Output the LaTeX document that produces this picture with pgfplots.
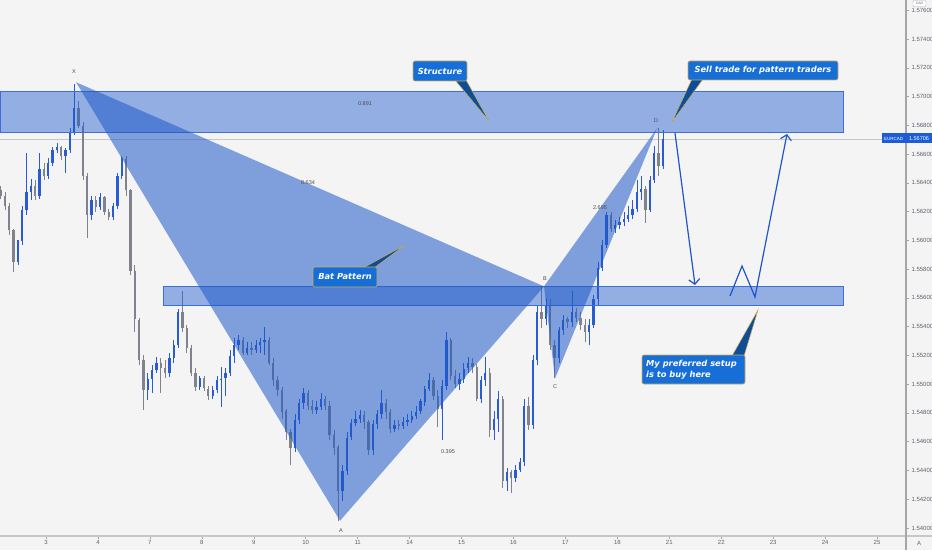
\documentclass[border=0pt]{standalone}
\usepackage{pgfplots}
\pgfplotsset{compat=1.18}
\usepackage{pgfplotstable}
\usepackage{fontspec}
\setmainfont{Liberation Sans}
\newfontfamily\calloutfont{DejaVu Sans}
\usetikzlibrary{arrows.meta}

\definecolor{bg}{RGB}{244,244,244}
\definecolor{upc}{RGB}{41,92,210}
\definecolor{dnc}{RGB}{128,131,140}
\definecolor{patt}{RGB}{30,90,200}
\definecolor{zone}{RGB}{30,90,205}
\definecolor{zoneedge}{RGB}{60,110,215}
\definecolor{callbg}{RGB}{22,110,214}
\definecolor{calledge}{RGB}{205,175,85}
\definecolor{arrowc}{RGB}{30,85,205}
\definecolor{axgray}{RGB}{165,165,170}
\definecolor{lblgray}{RGB}{95,98,108}
\definecolor{tagblue}{RGB}{28,92,214}

% EURCAD candles, 12 bars per trading day (k = bar number)
\pgfplotstableread{
k o h l c
0 1.5635 1.5638 1.5629 1.5631
1 1.5631 1.5634 1.5621 1.5624
2 1.5624 1.5626 1.5604 1.5607
3 1.5607 1.5608 1.5578 1.5585
4 1.5585 1.5590 1.5583 1.5600
5 1.5600 1.5624 1.5597 1.5621
6 1.5621 1.5661 1.5618 1.5634
7 1.5634 1.5643 1.5628 1.5638
8 1.5638 1.5642 1.5628 1.5631
9 1.5631 1.5661 1.5629 1.5650
10 1.5650 1.5654 1.5642 1.5645
11 1.5645 1.5657 1.5643 1.5654
12 1.5654 1.5665 1.5652 1.5663
13 1.5663 1.5668 1.5661 1.5665
14 1.5665 1.5666 1.5656 1.5659
15 1.5659 1.5664 1.5647 1.5663
16 1.5663 1.5678 1.5661 1.5675
17 1.5675 1.5709 1.5673 1.5692
18 1.5692 1.5697 1.5678 1.5680
19 1.5680 1.5682 1.5642 1.5645
20 1.5645 1.5647 1.5602 1.5618
21 1.5618 1.5631 1.5614 1.5628
22 1.5628 1.5631 1.5620 1.5623
23 1.5623 1.5633 1.5621 1.5630
24 1.5630 1.5631 1.5618 1.5620
25 1.5620 1.5622 1.5614 1.5616
26 1.5616 1.5626 1.5614 1.5624
27 1.5624 1.5647 1.5622 1.5645
28 1.5645 1.5659 1.5643 1.5657
29 1.5657 1.5659 1.5631 1.5635
30 1.5635 1.5636 1.5576 1.5579
31 1.5579 1.5583 1.5536 1.5545
32 1.5545 1.5546 1.5513 1.5517
33 1.5517 1.5520 1.5482 1.5496
34 1.5496 1.5508 1.5489 1.5504
35 1.5504 1.5513 1.5494 1.5510
36 1.5510 1.5519 1.5508 1.5515
37 1.5515 1.5518 1.5494 1.5511
38 1.5511 1.5517 1.5504 1.5508
39 1.5508 1.5522 1.5505 1.5518
40 1.5518 1.5531 1.5515 1.5527
41 1.5527 1.5552 1.5525 1.5550
42 1.5550 1.5565 1.5536 1.5539
43 1.5539 1.5541 1.5522 1.5525
44 1.5525 1.5527 1.5506 1.5508
45 1.5508 1.5511 1.5495 1.5498
46 1.5498 1.5506 1.5496 1.5504
47 1.5504 1.5506 1.5495 1.5497
48 1.5497 1.5499 1.5489 1.5492
49 1.5492 1.5499 1.5490 1.5496
50 1.5496 1.5506 1.5494 1.5503
51 1.5503 1.5512 1.5484 1.5504
52 1.5504 1.5511 1.5492 1.5508
53 1.5508 1.5524 1.5506 1.5520
54 1.5520 1.5532 1.5515 1.5527
55 1.5527 1.5534 1.5524 1.5531
56 1.5531 1.5533 1.5520 1.5522
57 1.5522 1.5529 1.5520 1.5525
58 1.5525 1.5529 1.5520 1.5524
59 1.5524 1.5531 1.5522 1.5527
60 1.5527 1.5532 1.5522 1.5529
61 1.5529 1.5540 1.5520 1.5531
62 1.5531 1.5533 1.5513 1.5515
63 1.5515 1.5518 1.5499 1.5503
64 1.5503 1.5506 1.5492 1.5496
65 1.5496 1.5498 1.5476 1.5481
66 1.5481 1.5483 1.5461 1.5467
67 1.5467 1.5469 1.5444 1.5456
68 1.5456 1.5479 1.5453 1.5475
69 1.5475 1.5490 1.5472 1.5487
70 1.5487 1.5497 1.5483 1.5494
71 1.5494 1.5496 1.5482 1.5485
72 1.5485 1.5489 1.5479 1.5482
73 1.5482 1.5488 1.5479 1.5484
74 1.5484 1.5494 1.5482 1.5490
75 1.5490 1.5492 1.5482 1.5485
76 1.5485 1.5488 1.5461 1.5465
77 1.5465 1.5468 1.5451 1.5456
78 1.5456 1.5458 1.5405 1.5426
79 1.5426 1.5444 1.5419 1.5440
80 1.5440 1.5467 1.5437 1.5463
81 1.5463 1.5476 1.5461 1.5473
82 1.5473 1.5481 1.5471 1.5476
83 1.5476 1.5482 1.5473 1.5479
84 1.5479 1.5481 1.5469 1.5474
85 1.5474 1.5475 1.5451 1.5454
86 1.5454 1.5475 1.5451 1.5472
87 1.5472 1.5482 1.5469 1.5479
88 1.5479 1.5496 1.5476 1.5487
89 1.5487 1.5490 1.5476 1.5481
90 1.5481 1.5483 1.5466 1.5469
91 1.5469 1.5475 1.5467 1.5472
92 1.5472 1.5475 1.5468 1.5471
93 1.5471 1.5477 1.5469 1.5474
94 1.5474 1.5479 1.5471 1.5475
95 1.5475 1.5481 1.5473 1.5478
96 1.5478 1.5485 1.5476 1.5481
97 1.5481 1.5490 1.5479 1.5488
98 1.5488 1.5499 1.5485 1.5497
99 1.5497 1.5508 1.5495 1.5503
100 1.5503 1.5505 1.5489 1.5492
101 1.5492 1.5496 1.5470 1.5483
102 1.5483 1.5503 1.5461 1.5499
103 1.5499 1.5536 1.5496 1.5531
104 1.5531 1.5532 1.5503 1.5506
105 1.5506 1.5510 1.5497 1.5500
106 1.5500 1.5508 1.5496 1.5504
107 1.5504 1.5515 1.5501 1.5511
108 1.5511 1.5519 1.5508 1.5515
109 1.5515 1.5518 1.5508 1.5512
110 1.5512 1.5514 1.5488 1.5490
111 1.5490 1.5506 1.5487 1.5503
112 1.5503 1.5519 1.5499 1.5508
113 1.5508 1.5511 1.5463 1.5468
114 1.5468 1.5481 1.5461 1.5476
115 1.5476 1.5495 1.5467 1.5490
116 1.5490 1.5492 1.5428 1.5433
117 1.5433 1.5442 1.5426 1.5439
118 1.5439 1.5440 1.5424 1.5435
119 1.5435 1.5444 1.5432 1.5440
120 1.5440 1.5449 1.5439 1.5446
121 1.5446 1.5490 1.5443 1.5485
122 1.5485 1.5491 1.5468 1.5472
123 1.5472 1.5520 1.5469 1.5517
124 1.5517 1.5555 1.5513 1.5550
125 1.5550 1.5568 1.5539 1.5545
126 1.5545 1.5560 1.5541 1.5555
127 1.5555 1.5559 1.5524 1.5527
128 1.5527 1.5531 1.5504 1.5518
129 1.5518 1.5540 1.5515 1.5538
130 1.5538 1.5548 1.5534 1.5545
131 1.5545 1.5547 1.5539 1.5543
132 1.5543 1.5565 1.5540 1.5550
133 1.5550 1.5553 1.5543 1.5546
134 1.5546 1.5550 1.5538 1.5541
135 1.5541 1.5545 1.5529 1.5536
136 1.5536 1.5545 1.5527 1.5541
137 1.5541 1.5562 1.5539 1.5559
138 1.5559 1.5585 1.5555 1.5581
139 1.5581 1.5600 1.5579 1.5597
140 1.5597 1.5620 1.5595 1.5618
141 1.5618 1.5620 1.5606 1.5608
142 1.5608 1.5614 1.5605 1.5611
143 1.5611 1.5616 1.5608 1.5613
144 1.5613 1.5620 1.5610 1.5615
145 1.5615 1.5624 1.5613 1.5618
146 1.5618 1.5628 1.5615 1.5622
147 1.5622 1.5642 1.5620 1.5634
148 1.5634 1.5645 1.5628 1.5636
149 1.5636 1.5638 1.5612 1.5621
150 1.5621 1.5645 1.5620 1.5642
151 1.5642 1.5666 1.5640 1.5661
152 1.5661 1.5678 1.5645 1.5652
153 1.5652 1.5677 1.5650 1.56706
}\candles

% #1 sign range of close-open, #2 colour, #3 stroke width, #4 error direction
\pgfplotsset{
  candle/.style n args={4}{draw=none, mark=none, forget plot,
    restrict expr to domain={\thisrow{c}-\thisrow{o}}{#1},
    error bars/y dir=#4, error bars/y explicit, error bars/error mark=none,
    error bars/error bar style={draw=#2, solid, line width=#3}},
}

\begin{document}
\begin{tikzpicture}
\fill[bg] (0,0) rectangle (932pt,550pt);
\begin{axis}[
  at={(0pt,14pt)}, anchor=south west, scale only axis,
  width=906pt, height=536pt,
  xmin=-0.886, xmax=16.557, ymin=1.53944, ymax=1.57672,
  axis x line*=bottom, axis y line*=right,
  axis line style={draw=none},
  xtick={0,...,16},
  xticklabels={3,4,7,8,9,10,11,14,15,16,17,18,21,22,23,24,25},
  ytick={1.540,1.542,1.544,1.546,1.548,1.550,1.552,1.554,1.556,1.558,1.560,1.562,1.564,1.566,1.568,1.570,1.572,1.574,1.576},
  scaled y ticks=false,
  yticklabel style={/pgf/number format/fixed, /pgf/number format/fixed zerofill, /pgf/number format/precision=5, xshift=-0.5pt},
  xticklabel style={yshift=1.5pt},
  /pgf/number format/assume math mode=true,
  tick label style={font=\fontsize{6}{7}\selectfont, text=lblgray},
  tick align=outside, major tick length=2.5pt,
  tick style={draw=axgray, line width=0.5pt},
]
% last price line
\addplot[draw=black!22, line width=0.5pt, forget plot] coordinates {(-0.886,1.56706) (16.557,1.56706)};

% wicks (low to high)
\addplot[candle={0:1}{upc}{0.6pt}{plus}]
  table[x expr=\thisrow{k}/12-0.875, y=l, y error plus expr=\thisrow{h}-\thisrow{l}] {\candles};
\addplot[candle={-1:-0.000001}{dnc}{0.6pt}{plus}]
  table[x expr=\thisrow{k}/12-0.875, y=l, y error plus expr=\thisrow{h}-\thisrow{l}] {\candles};
% bodies (open to close)
\addplot[candle={0:1}{upc}{2.3pt}{both}]
  table[x expr=\thisrow{k}/12-0.875, y expr=(\thisrow{o}+\thisrow{c})/2,
        y error expr={max(abs(\thisrow{c}-\thisrow{o})/2,0.00002)}] {\candles};
\addplot[candle={-1:-0.000001}{dnc}{2.3pt}{both}]
  table[x expr=\thisrow{k}/12-0.875, y expr=(\thisrow{o}+\thisrow{c})/2,
        y error expr={max(abs(\thisrow{c}-\thisrow{o})/2,0.00002)}] {\candles};

% structure zone and buy zone
\addplot[fill=zone, fill opacity=0.45, draw=zoneedge, line width=0.7pt, forget plot]
  coordinates {(-0.886,1.57040) (15.345,1.57040) (15.345,1.56750) (-0.886,1.56750)} -- cycle;
\addplot[fill=zone, fill opacity=0.45, draw=zoneedge, line width=0.7pt, forget plot]
  coordinates {(2.253,1.55682) (15.345,1.55682) (15.345,1.55550) (2.253,1.55550)} -- cycle;

% XAB and BCD legs of the bat
\addplot[fill=patt, fill opacity=0.55, draw=none, forget plot]
  coordinates {(0.578,1.5710) (5.660,1.5405) (9.588,1.5568)} -- cycle;
\addplot[fill=patt, fill opacity=0.55, draw=none, forget plot]
  coordinates {(9.588,1.5568) (9.800,1.5504) (11.764,1.5678)} -- cycle;
\end{axis}

\begin{scope}[x=1pt, y=-1pt, shift={(0pt,550pt)}]
  % frame lines of the price and time scales
  \draw[black!22, line width=1.6pt] (0,536) -- (932,536);
  \draw[axgray, line width=1.1pt] (906,0) -- (906,550);

  % pivot letters and ratios
  \begin{scope}[every node/.style={font=\fontsize{5.5}{6}\selectfont, text=black!70, inner sep=0pt}]
    \node at (74,72) {X};
    \node at (341,531) {A};
    \node at (545,279) {B};
    \node at (555,387) {C};
    \node at (656,121) {D};
    \node at (365,104) {0.891};
    \node at (308,183) {0.634};
    \node at (448,452) {0.395};
    \node at (600,208) {2.695};
  \end{scope}

  % projected path
  \draw[arrowc, line width=1.2pt, -{Straight Barb[length=5pt,width=11pt]}] (675,133) -- (695,285);
  \draw[arrowc, line width=1.2pt, -{Straight Barb[length=5pt,width=11pt]}] (730,296) -- (742,266) -- (755,297) -- (787,134);

  % callouts
  \begin{scope}[every node/.style={font=\calloutfont\bfseries\itshape\fontsize{8.3}{11}\selectfont, text=white, inner sep=0pt}]
    \fill[callbg!70!black, draw=calledge, line width=0.5pt] (455,80) -- (489,121) -- (466,80) -- cycle;
    \draw[fill=callbg, draw=calledge, line width=0.6pt, rounded corners=2pt] (413,61) rectangle (467,81);
    \node at (440,71) {Structure};

    \fill[callbg!70!black, draw=calledge, line width=0.5pt] (692,79) -- (672,122) -- (703,79) -- cycle;
    \draw[fill=callbg, draw=calledge, line width=0.6pt, rounded corners=2pt] (688,61) rectangle (838,80);
    \node at (763,70.5) {Sell trade for pattern traders};

    \fill[callbg!70!black, draw=calledge, line width=0.5pt] (363,268) -- (405,245) -- (374,268) -- cycle;
    \draw[fill=callbg, draw=calledge, line width=0.6pt, rounded corners=2pt] (313,267) rectangle (377,287);
    \node at (345,277) {Bat Pattern};

    \fill[callbg!70!black, draw=calledge, line width=0.5pt] (732,356) -- (758,310) -- (744,356) -- cycle;
    \draw[fill=callbg, draw=calledge, line width=0.6pt, rounded corners=2pt] (642,355) rectangle (745,384);
    \node[anchor=west, align=left] at (646,369.5) {My preferred setup\\is to buy here};
  \end{scope}

  % symbol and last price tags
  \fill[tagblue] (881.5,133.5) rectangle (905.5,143.5);
  \node[font=\fontsize{4.5}{5}\selectfont, text=white, inner sep=0pt] at (893.5,138.5) {EURCAD};
  \fill[tagblue] (906,133.5) rectangle (932,143.5);
  \node[font=\fontsize{5.5}{6}\selectfont, text=white, inner sep=0pt] at (919,138.5) {1.56706};

  % currency badge and auto-scale button
  \draw[fill=white, draw=black!30, line width=0.4pt, rounded corners=1pt] (913,0.5) rectangle (926,6.5);
  \node[font=\fontsize{3.5}{4}\selectfont, text=lblgray, inner sep=0pt] at (919.5,3.5) {CAD};
  \node[font=\fontsize{6}{7}\selectfont, text=lblgray, inner sep=0pt] at (919,543) {A};
\end{scope}

\pgfresetboundingbox
\useasboundingbox (0,0) rectangle (932pt,550pt);
\end{tikzpicture}
\end{document}
